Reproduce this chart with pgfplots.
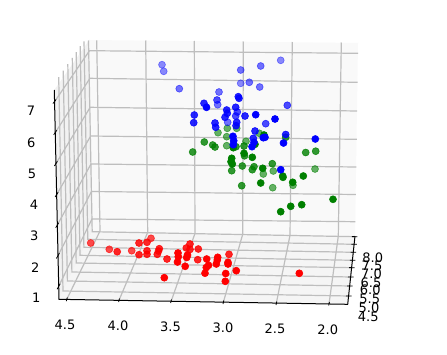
\documentclass[border=0pt]{standalone}
\usepackage{pgfplots}
\pgfplotsset{compat=1.18}
\usepackage{fontspec}
\setmainfont{DejaVu Sans}
\definecolor{gridc}{HTML}{BEBEBE}
\definecolor{mgreen}{rgb}{0,0.5,0}
\newcommand{\seg}[5]{\addplot[#1] coordinates {(#2,#3) (#4,#5)};}
\newcommand{\pts}[3]{\addplot[only marks, mark=*, mark size=3.5bp, line width=0.6bp, color=#1, mark options={opacity=#2}] coordinates {#3};}
\newcommand{\lab}[3]{\node[font=\fontsize{13bp}{15bp}\selectfont, text=black, anchor=center, inner sep=0pt] at (axis cs:#1,#2) {#3};}
\begin{document}
\begin{tikzpicture}
\begin{axis}[
  width=447bp, height=355bp, scale only axis,
  xmin=0, xmax=447, ymin=0, ymax=355, y dir=reverse,
  hide axis, clip=true,
  every axis plot/.append style={line cap=butt}
]
% canvas
\addplot[fill=white, draw=none] coordinates {(0,0) (447,0) (447,355) (0,355)} -- cycle;
% panes
\addplot[fill=black!5, draw=none] coordinates {(54.3,90) (89.3,40) (92.6,231) (59,299.3)} -- cycle;
\addplot[fill=black!2.5, draw=none] coordinates {(89.3,40) (358,43) (355,236) (92.6,231)} -- cycle;
\addplot[fill=black!4, draw=none] coordinates {(59,299.3) (92.6,231) (355,236) (347.7,304.3)} -- cycle;
% back wall: vertical grid
\seg{gridc, line width=1.2bp}{100}{231}{96.7}{40.3}
\seg{gridc, line width=1.2bp}{147.7}{232.3}{145.7}{40.5}
\seg{gridc, line width=1.2bp}{195}{233.3}{194.3}{41}
\seg{gridc, line width=1.2bp}{242.7}{234.3}{243.3}{41.5}
\seg{gridc, line width=1.2bp}{290}{235.3}{292.3}{42}
\seg{gridc, line width=1.2bp}{338.3}{236}{341.3}{42.5}
% back wall: horizontal grid and left wall: slanted grid (z = 1..7)
\addplot[gridc, line width=1.2bp] coordinates {(54.3,102) (89.5,50.7) (358,53.3)};
\addplot[gridc, line width=1.2bp] coordinates {(55,133) (89.9,78.3) (357.6,82.3)};
\addplot[gridc, line width=1.2bp] coordinates {(55.7,164) (90.2,107.3) (357.2,111)};
\addplot[gridc, line width=1.2bp] coordinates {(56.4,195) (90.7,136) (356.8,139.3)};
\addplot[gridc, line width=1.2bp] coordinates {(57,225.5) (91,164) (356.3,167)};
\addplot[gridc, line width=1.2bp] coordinates {(57.7,256) (91.5,191.5) (355.9,194.5)};
\addplot[gridc, line width=1.2bp] coordinates {(58.4,286.7) (92,219) (355.3,221.7)};
% floor: x grid
\seg{gridc, line width=1.2bp}{66.7}{299.5}{100}{231}
\seg{gridc, line width=1.2bp}{119}{300.3}{147.7}{232.3}
\seg{gridc, line width=1.2bp}{171}{301.7}{195}{233.3}
\seg{gridc, line width=1.2bp}{223.3}{302.5}{242.7}{234.3}
\seg{gridc, line width=1.2bp}{276.3}{303.3}{290}{235.3}
\seg{gridc, line width=1.2bp}{329}{304}{338.3}{236}
% floor + left wall: y grid (4.5 .. 8.0)
\addplot[gridc, line width=1.2bp] coordinates {(349.2,296) (63,291) (58.7,77.2)};
\addplot[gridc, line width=1.2bp] coordinates {(350.4,286) (67.4,281) (63.2,70.7)};
\addplot[gridc, line width=1.2bp] coordinates {(351.2,277) (71.9,272) (67.8,64.2)};
\addplot[gridc, line width=1.2bp] coordinates {(352.2,267.7) (76.2,263) (72.3,57.8)};
\addplot[gridc, line width=1.2bp] coordinates {(353,260.3) (80,255.3) (76.2,52.2)};
\addplot[gridc, line width=1.2bp] coordinates {(353.8,252.3) (83.9,247.3) (80.2,46.2)};
\addplot[gridc, line width=1.2bp] coordinates {(354.6,244.3) (87.8,239.3) (84,41.3)};
\addplot[gridc, line width=1.2bp] coordinates {(355.1,236.7) (92.2,231.7) (88.5,40.5)};
% axis lines
\addplot[black, line width=1bp] coordinates {(54.3,90) (59,299.3) (347.7,304.3) (355,236)};
% z ticks
\seg{black, line width=0.8bp}{53}{103.5}{56}{99.5}
\seg{black, line width=0.8bp}{53.7}{134.8}{56.7}{130.3}
\seg{black, line width=0.8bp}{54.4}{166}{57.4}{161.3}
\seg{black, line width=0.8bp}{55.1}{197}{58.1}{192.3}
\seg{black, line width=0.8bp}{55.7}{227.8}{58.7}{222.8}
\seg{black, line width=0.8bp}{56.4}{258.5}{59.4}{253}
\seg{black, line width=0.8bp}{57.1}{289.3}{60.1}{283.8}
% x ticks
\seg{black, line width=0.8bp}{66.2}{301.2}{67.4}{297.5}
\seg{black, line width=0.8bp}{118.6}{302}{119.5}{298.5}
\seg{black, line width=0.8bp}{170.6}{303}{171.5}{299.5}
\seg{black, line width=0.8bp}{223}{304}{223.8}{300.5}
\seg{black, line width=0.8bp}{276}{305}{276.8}{301.5}
\seg{black, line width=0.8bp}{328.7}{305.5}{329.4}{302}
% y ticks
\seg{black, line width=0.8bp}{346}{295.9}{351.5}{296}
\seg{black, line width=0.8bp}{347.2}{285.9}{352.7}{286}
\seg{black, line width=0.8bp}{348}{276.9}{353.5}{277}
\seg{black, line width=0.8bp}{349}{267.6}{354.5}{267.7}
\seg{black, line width=0.8bp}{349.8}{260.2}{355.3}{260.3}
\seg{black, line width=0.8bp}{350.6}{252.2}{356.1}{252.3}
\seg{black, line width=0.8bp}{351.4}{244.2}{356.9}{244.3}
\seg{black, line width=0.8bp}{351.9}{236.6}{357.4}{236.7}
% red series
\pts{red}{0.7}{(90.7,243) (109.3,249.3) (131.7,250.7) (151,238.3)}
\pts{red}{0.85}{(117.2,251.7) (139,243) (147,242.3) (139,254.7) (147,250.7) (147,254.3) (157.3,254.3) (158.5,251) (159.3,248.7) (167,259) (190,244) (186.3,248) (190,249.4) (198.3,249) (197.7,259.7) (229,254.3)}
\pts{red}{1}{(164.3,277.7) (177.5,262) (178,253) (178.3,256.7) (185.2,266.3) (187.5,255) (186.7,257.5) (206.7,259) (208.5,265.3) (206.3,267.5) (205,273.2) (217.7,257.3) (217.3,260) (216.3,264) (228,262.3) (228,264) (236.3,270.7) (225.7,273.5) (225.3,281.3) (299.3,273.3)}
% green series
\pts{mgreen}{0.6}{(218,132.7) (227.3,128.3) (236.7,128.3) (226.7,136.7) (226.7,145.7) (259.3,133.3) (246,141.3) (263.3,174) (273.3,171) (293,185.3) (272.7,187.7) (315,169)}
\pts{mgreen}{0.8}{(204.3,142) (192.7,152) (212.7,145) (215,147) (285.7,137.3) (244,146) (236,146.7) (305.7,152.5) (315.7,151.2) (254,166.7) (252.3,169.7) (272.3,163.7) (242.3,166) (231.7,170.7) (241.7,185.7) (244.5,155.8)}
\pts{mgreen}{1}{(264,135) (233.3,147.7) (255,144.3) (231.7,158.3) (231,161.7) (232.3,164) (244,153.3) (252.3,157.3) (262.7,168.3) (282.7,176) (283,177.3) (292.7,182.3) (303.3,176) (260.7,183) (333,199.3) (301.7,204.7) (290.7,206.3) (280.7,211.7)}
% blue series
\pts{blue}{0.45}{(162,64.7) (163.7,71.3) (280.7,60.3) (240.7,83.3)}
\pts{blue}{0.55}{(179.3,88.7) (260.7,66) (240.7,70) (249.3,82.3) (259.7,87) (219,92) (217.7,104.7) (227.7,122.3)}
\pts{blue}{0.7}{(217,100) (287.3,105.3) (237.3,112) (235.7,116) (265.7,123.7)}
\pts{blue}{0.85}{(204,103.3) (194.3,115) (193.7,122.7) (238.3,96.7) (239,98.3) (235.7,107.3) (226.7,110) (227.3,113.3) (225,117.3) (245,116) (215,123) (215.7,127.3) (236.7,122.3) (236,125.7) (255,131) (285.7,134.5) (253.3,138.3)}
\pts{blue}{1}{(206.5,107.3) (255.7,114.7) (275,119) (315.3,139) (233,136.3) (233.7,140.7) (233.3,144.7) (263.3,137.7) (265,137.3) (254,142.3) (252,146.7) (283.5,143) (280.7,169.7)}
% tick labels
\lab{31}{111}{7}
\lab{31.3}{143}{6}
\lab{32}{174}{5}
\lab{34}{205}{4}
\lab{34.3}{236}{3}
\lab{35.3}{267.3}{2}
\lab{36.3}{297.3}{1}
\lab{65}{325.3}{4.5}
\lab{118}{326}{4.0}
\lab{170.5}{327}{3.5}
\lab{223}{328}{3.0}
\lab{275}{329}{2.5}
\lab{327.7}{330}{2.0}
\lab{372.7}{257.3}{8.0}
\lab{372}{265.7}{7.5}
\lab{371.5}{273.3}{7.0}
\lab{371}{282.3}{6.5}
\lab{370.3}{290}{6.0}
\lab{369.7}{299}{5.5}
\lab{369}{307.3}{5.0}
\lab{368.3}{316.7}{4.5}
\end{axis}
\end{tikzpicture}
\end{document}
